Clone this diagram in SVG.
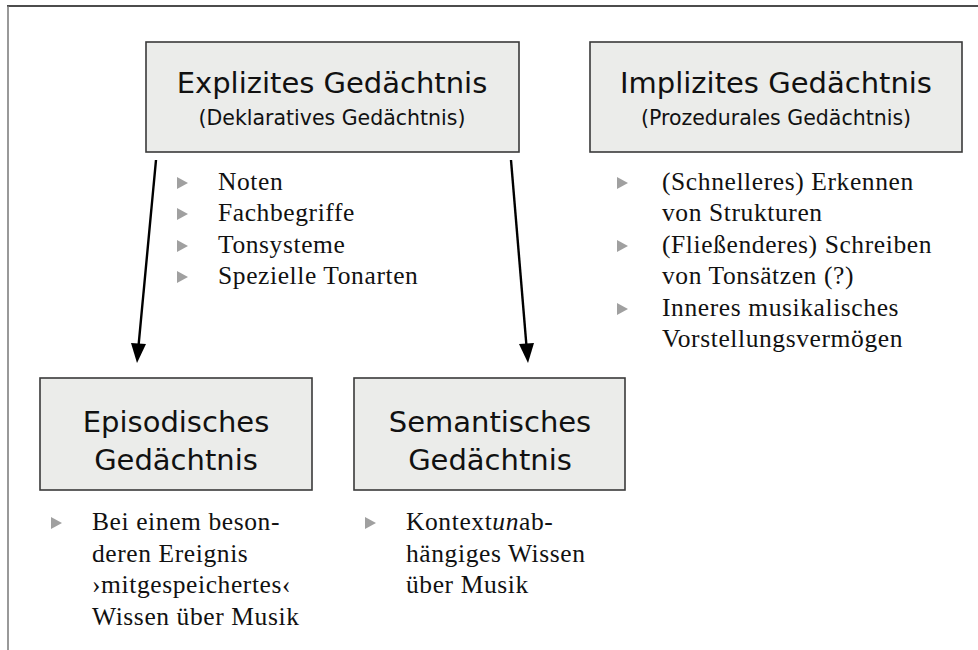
<svg xmlns="http://www.w3.org/2000/svg" width="978" height="650" viewBox="0 0 978 650">
<style>
.box{fill:#ebecea;stroke:#3a3a3a;stroke-width:1.6}
.h{font-family:"DejaVu Sans","Noto Sans",sans-serif;fill:#111;text-anchor:middle}
.b{font-family:"Liberation Serif","DejaVu Serif",serif;font-size:25.5px;letter-spacing:0.6px;fill:#111}
.m{fill:#a0a0a0}
.c{stroke:#000;stroke-width:2.4;fill:none}
</style>
<defs>
<path id="tri" d="M0,-6 L11,0 L0,6 Z"/>
</defs>
<rect width="978" height="650" fill="#fff"/>
<g id="frame">
<line x1="7" y1="6" x2="978" y2="6" stroke="#111" stroke-width="1.5"/>
<line x1="8" y1="6" x2="8" y2="650" stroke="#777" stroke-width="1.5"/>
</g>
<g id="connectors">
<line class="c" x1="156" y1="160" x2="138.6" y2="345"/>
<path d="M131,343 L146,344 L137,363 Z" fill="#000"/>
<line class="c" x1="511" y1="160" x2="526.4" y2="345"/>
<path d="M519,344 L534,343 L528,363 Z" fill="#000"/>
</g>
<g id="explizit">
<rect class="box" x="146" y="42" width="373" height="110"/>
<text class="h" x="332" y="93" font-size="29">Explizites Gedächtnis</text>
<text class="h" x="332" y="125" font-size="20.5">(Deklaratives Gedächtnis)</text>
</g>
<g id="explizit-list">
<use href="#tri" class="m" x="177" y="183"/>
<use href="#tri" class="m" x="177" y="214"/>
<use href="#tri" class="m" x="177" y="246"/>
<use href="#tri" class="m" x="177" y="277"/>
<text class="b" x="218" y="190">Noten</text>
<text class="b" x="218" y="221">Fachbegriffe</text>
<text class="b" x="218" y="253">Tonsysteme</text>
<text class="b" x="218" y="284">Spezielle Tonarten</text>
</g>
<g id="implizit">
<rect class="box" x="590" y="42" width="372" height="110"/>
<text class="h" x="776" y="93" font-size="29">Implizites Gedächtnis</text>
<text class="h" x="776" y="125" font-size="20.5">(Prozedurales Gedächtnis)</text>
</g>
<g id="implizit-list">
<use href="#tri" class="m" x="617" y="183"/>
<use href="#tri" class="m" x="617" y="246"/>
<use href="#tri" class="m" x="617" y="309"/>
<text class="b" x="662" y="190">(Schnelleres) Erkennen</text>
<text class="b" x="662" y="221">von Strukturen</text>
<text class="b" x="662" y="253">(Fließenderes) Schreiben</text>
<text class="b" x="662" y="284">von Tonsätzen (?)</text>
<text class="b" x="662" y="316">Inneres musikalisches</text>
<text class="b" x="662" y="347">Vorstellungsvermögen</text>
</g>
<g id="episodisch">
<rect class="box" x="40" y="378" width="272" height="112"/>
<text class="h" x="176" y="432" font-size="29">Episodisches</text>
<text class="h" x="176" y="470" font-size="29">Gedächtnis</text>
</g>
<g id="episodisch-list">
<use href="#tri" class="m" x="51" y="523"/>
<text class="b" x="92" y="530">Bei einem beson-</text>
<text class="b" x="92" y="562">deren Ereignis</text>
<text class="b" x="92" y="593">›mitgespeichertes‹</text>
<text class="b" x="92" y="625">Wissen über Musik</text>
</g>
<g id="semantisch">
<rect class="box" x="354" y="378" width="271" height="112"/>
<text class="h" x="490" y="432" font-size="29">Semantisches</text>
<text class="h" x="490" y="470" font-size="29">Gedächtnis</text>
</g>
<g id="semantisch-list">
<use href="#tri" class="m" x="365" y="523"/>
<text class="b" x="406" y="530">Kontext<tspan font-style="italic">un</tspan>ab-</text>
<text class="b" x="406" y="562">hängiges Wissen</text>
<text class="b" x="406" y="593">über Musik</text>
</g>
</svg>
